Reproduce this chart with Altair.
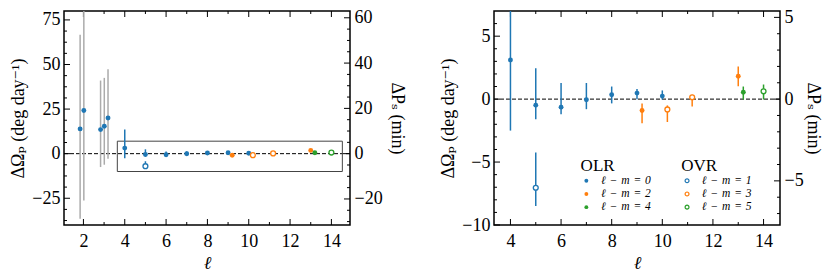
import altair as alt
import pandas as pd

FONT = "Liberation Serif, DejaVu Serif, serif"
BLUE, ORANGE, GREEN, GREY = "#1f77b4", "#ff7f0e", "#2ca02c", "#ababab"

# ---------------- data ----------------
# low-degree points (grey error bars), left panel only
low_ell = [1.84, 2.02, 2.83, 3.01, 3.19]
low_om = [13.9, 24.2, 13.5, 15.4, 20.0]
low_lo = [-36.5, -26.2, -7.5, -6.2, -2.8]
low_hi = [66.7, 85.0, 41.0, 42.5, 47.4]

# OLR, l-m = 0
olr0_ell = [4, 5, 6, 7, 8, 9, 10]
olr0_om = [3.11, -0.48, -0.64, -0.05, 0.35, 0.48, 0.24]
olr0_lo = [-2.5, -1.6, -1.2, -0.8, -0.34, -0.02, -0.03]
olr0_hi = [13.5, 2.45, 1.28, 1.28, 1.0, 0.8, 0.69]
# OLR, l-m = 2
olr2_ell = [9.2, 13.0]
olr2_om = [-0.9, 1.82]
olr2_lo = [-1.92, 1.02]
olr2_hi = [-0.35, 2.6]
# OLR, l-m = 4
olr4_ell = [13.2]
olr4_om = [0.55]
olr4_lo = [-0.03]
olr4_hi = [1.0]
# OVR, l-m = 1
ovr1_ell = [5.0]
ovr1_om = [-7.04]
ovr1_lo = [-8.5]
ovr1_hi = [-4.25]
# OVR, l-m = 3
ovr3_ell = [10.2, 11.18]
ovr3_om = [-0.82, 0.15]
ovr3_lo = [-1.82, -0.58]
ovr3_hi = [-0.5, 0.35]
# OVR, l-m = 5
ovr5_ell = [14.0]
ovr5_om = [0.62]
ovr5_lo = [-0.03]
ovr5_hi = [1.16]

# zoom box drawn in the left panel
box_x = [3.64, 14.53]
box_y = [-10, 7]

# axis domains and ticks
L_xdom, L_ydom, L_pdom = [1.06, 14.9], [-40, 80], [-31.5, 63.0]
L_xmaj, L_xmin = [2, 4, 6, 8, 10, 12, 14], [3, 5, 7, 9, 11, 13]
L_ymaj = [-25, 0, 25, 50, 75]
L_ymin = [-37.5, -31.25, -18.75, -12.5, -6.25, 6.25, 12.5, 18.75, 31.25, 37.5,
          43.75, 56.25, 62.5, 68.75]
L_pmaj = [-20, 0, 20, 40, 60]
L_pmin = [-30, -25, -15, -10, -5, 5, 10, 15, 25, 30, 35, 45, 50, 55]

R_xdom, R_ydom, R_pdom = [3.35, 14.65], [-10, 7], [-7.7, 5.39]
R_xmaj, R_xmin = [4, 6, 8, 10, 12, 14], [5, 7, 9, 11, 13]
R_ymaj = [-10, -5, 0, 5]
R_ymin = [-9, -8, -7, -6, -4, -3, -2, -1, 1, 2, 3, 4, 6]
R_pmaj = [-5, 0, 5]
R_pmin = [-7, -6, -4, -3, -2, -1, 1, 2, 3, 4]

SP = "\u2004"


def lab(k):
    return "ℓ" + SP + "−" + SP + "m" + SP + "=" + SP + str(k)


rows = []


def add(ells, oms, los, his, kind, k, pt, bar, low=False):
    for e, o, l, h in zip(ells, oms, los, his):
        rows.append(dict(ell=e, om=o, lo=l, hi=h, kind=kind, grp=lab(k),
                         pt=pt, bar=bar, low=low))


add(low_ell, low_om, low_lo, low_hi, "OLR", 0, BLUE, GREY, True)
add(olr0_ell, olr0_om, olr0_lo, olr0_hi, "OLR", 0, BLUE, BLUE)
add(olr2_ell, olr2_om, olr2_lo, olr2_hi, "OLR", 2, ORANGE, ORANGE)
add(olr4_ell, olr4_om, olr4_lo, olr4_hi, "OLR", 4, GREEN, GREEN)
add(ovr1_ell, ovr1_om, ovr1_lo, ovr1_hi, "OVR", 1, BLUE, BLUE)
add(ovr3_ell, ovr3_om, ovr3_lo, ovr3_hi, "OVR", 3, ORANGE, ORANGE)
add(ovr5_ell, ovr5_om, ovr5_lo, ovr5_hi, "OVR", 5, GREEN, GREEN)
df_all = pd.DataFrame(rows)

W, H = 286, 214
MAJ, MIN = 6, 3


def panel(df, xdom, ydom, pdom, xmaj, xmin, ymaj, ymin, pmaj, pmin,
          box=False, legend=False, pE=32):
    xs = alt.Scale(domain=xdom, nice=False, zero=False)
    ys = alt.Scale(domain=ydom, nice=False, zero=False)
    ps = alt.Scale(domain=pdom, nice=False, zero=False)

    xaxis = alt.Axis(values=xmaj, ticks=False, tickSize=0, domain=False, grid=False,
                     labelPadding=7, title="ℓ", titlePadding=4,
                     titleFontStyle="italic", format="d")
    yaxis = alt.Axis(values=ymaj, ticks=False, tickSize=0, domain=False, grid=False,
                     labelPadding=4, title="ΔΩₚ (deg day⁻¹)",
                     minExtent=33, maxExtent=33, titlePadding=4, format="d")
    paxis = alt.Axis(orient="right", values=pmaj, ticks=False, tickSize=0,
                     domain=False, grid=False, labelPadding=4,
                     title="ΔPₛ (min)", minExtent=pE, maxExtent=pE,
                     titlePadding=2, format="d")

    def X(f, **kw):
        return alt.X(f, type="quantitative", scale=xs, **kw)

    def Y(f, **kw):
        return alt.Y(f, type="quantitative", scale=ys, **kw)

    rule = dict(color="black", strokeWidth=1)
    layers = []
    for vals, L, ax in ((xmaj, MAJ, xaxis), (xmin, MIN, None)):
        d = pd.DataFrame({"v": vals})
        kw = {"axis": ax} if ax is not None else {}
        layers.append(alt.Chart(d).mark_rule(**rule).encode(
            x=X("v", **kw), y=alt.value(H), y2=alt.value(H - L)))
        layers.append(alt.Chart(d).mark_rule(**rule).encode(
            x=X("v"), y=alt.value(0), y2=alt.value(L)))
    for vals, L, ax in ((ymaj, MAJ, yaxis), (ymin, MIN, None)):
        d = pd.DataFrame({"v": vals})
        kw = {"axis": ax} if ax is not None else {}
        layers.append(alt.Chart(d).mark_rule(**rule).encode(
            y=Y("v", **kw), x=alt.value(0), x2=alt.value(L)))

    layers.append(
        alt.Chart(pd.DataFrame({"z": [0]})).mark_rule(
            color="black", strokeWidth=1, strokeDash=[4, 2]
        ).encode(y=Y("z"))
    )
    if box:
        layers.append(
            alt.Chart(pd.DataFrame({"x1": [box_x[0]], "x2": [box_x[1]],
                                    "y1": [box_y[0]], "y2": [box_y[1]]}))
            .mark_rect(fillOpacity=0, stroke="#444444", strokeWidth=1)
            .encode(x=X("x1"), x2="x2:Q", y=Y("y1"), y2="y2:Q")
        )

    layers.append(
        alt.Chart(df).mark_rule(strokeWidth=1.5, clip=True).encode(
            x=X("ell"), y=Y("lo"), y2="hi:Q",
            color=alt.Color("bar:N", scale=None))
    )
    leg_common = dict(orient="none", padding=0, titlePadding=0, titleFontSize=17,
                      labelFontSize=11.5, rowPadding=0.2, symbolSize=15,
                      labelOffset=9, labelFontStyle="italic",
                      titleFontWeight="normal", symbolType="circle")
    olr_leg = alt.Legend(title="OLR", legendX=86.6, legendY=147, **leg_common) if legend else None
    ovr_leg = alt.Legend(title="OVR", legendX=187.3, legendY=147,
                         symbolFillColor="white", symbolStrokeWidth=1.2,
                         **leg_common) if legend else None
    layers.append(
        alt.Chart(df[df.kind == "OLR"]).mark_circle(size=24, opacity=1, clip=True).encode(
            x=X("ell"), y=Y("om"),
            color=alt.Color("grp:N", scale=alt.Scale(domain=[lab(0), lab(2), lab(4)],
                                                     range=[BLUE, ORANGE, GREEN]),
                            legend=olr_leg))
    )
    layers.append(
        alt.Chart(df[df.kind == "OVR"]).mark_point(
            shape="circle", size=24, filled=False, fill="white", strokeWidth=1.3,
            opacity=1, clip=True).encode(
            x=X("ell"), y=Y("om"),
            stroke=alt.Stroke("grp:N", scale=alt.Scale(domain=[lab(1), lab(3), lab(5)],
                                                       range=[BLUE, ORANGE, GREEN]),
                              legend=ovr_leg))
    )
    om_layer = alt.layer(*layers)

    players = []
    for vals, L, ax in ((pmaj, MAJ, paxis), (pmin, MIN, None)):
        d = pd.DataFrame({"v": vals})
        kw = {"axis": ax} if ax is not None else {}
        players.append(alt.Chart(d).mark_rule(**rule).encode(
            y=alt.Y("v:Q", scale=ps, **kw), x=alt.value(W), x2=alt.value(W - L)))
    p_layer = alt.layer(*players)

    return alt.layer(om_layer, p_layer).resolve_scale(y="independent").properties(
        width=W, height=H)


left = panel(df_all, L_xdom, L_ydom, L_pdom, L_xmaj, L_xmin, L_ymaj, L_ymin,
             L_pmaj, L_pmin, box=True, legend=False, pE=35)
right = panel(df_all[~df_all.low], R_xdom, R_ydom, R_pdom, R_xmaj, R_xmin, R_ymaj,
              R_ymin, R_pmaj, R_pmin, box=False, legend=True, pE=21)

chart = (
    alt.hconcat(left, right, spacing=32)
    .resolve_scale(color="independent", stroke="independent")
    .properties(padding={"left": 0, "top": -1, "right": 0, "bottom": 0})
    .configure_view(stroke="black", strokeWidth=1.5)
    .configure_axis(labelFont=FONT, titleFont=FONT, labelFontSize=18,
                    titleFontSize=18, titleFontWeight="normal",
                    labelColor="black", titleColor="black")
    .configure_legend(labelFont=FONT, titleFont=FONT, labelColor="black",
                      titleColor="black")
)

chart.save("out.html", embed_options={"renderer": "svg", "actions": False})
